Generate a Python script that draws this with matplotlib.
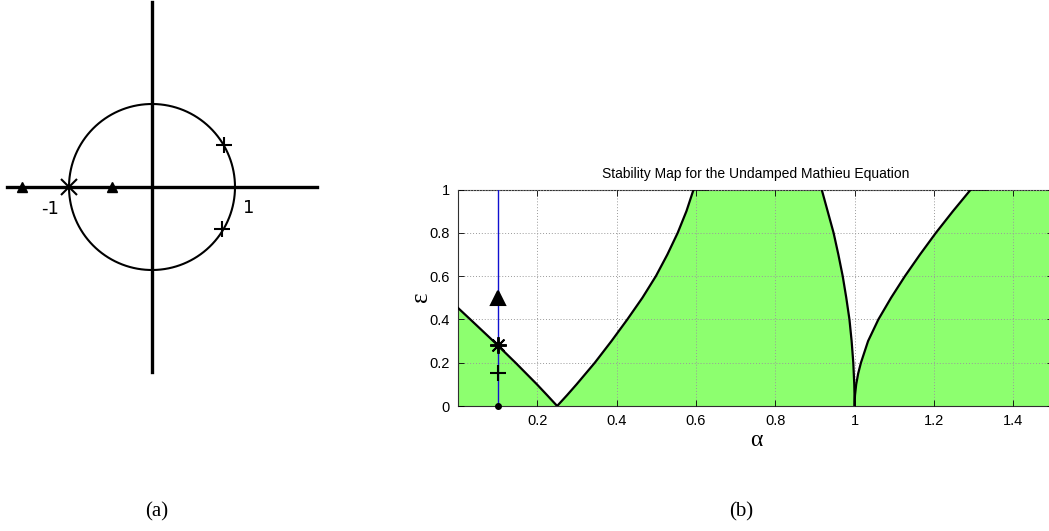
import matplotlib.pyplot as plt
import numpy as np

# ---- panel (a): Floquet multipliers in the complex plane ----
tri_re = [-1.565, -0.485]
tri_im = [0.0, 0.0]
star_re = [-1.0]
star_im = [0.0]
plus_re = [0.867, 0.847]
plus_im = [0.506, -0.506]

# ---- panel (b): transition curves ----
# tongue at alpha = 1/4
c1_left_eps = [0.0, 0.05, 0.1, 0.15, 0.2, 0.25, 0.3, 0.35, 0.4, 0.453]
c1_left_alpha = [0.25, 0.2247, 0.199, 0.172, 0.145, 0.117, 0.089, 0.060, 0.031, 0.0]
c1_right_eps = [0.0, 0.05, 0.1, 0.2, 0.3, 0.4, 0.5, 0.6, 0.7, 0.8, 0.9, 1.0, 1.0]
c1_right_alpha = [0.25, 0.275, 0.299, 0.345, 0.387, 0.427, 0.465, 0.499,
                  0.528, 0.554, 0.576, 0.594, 0.63]
# tongue at alpha = 1
c2_left_eps = [1.0, 0.9, 0.8, 0.7, 0.6, 0.5, 0.4, 0.3, 0.2, 0.1, 0.05, 0.0]
c2_left_alpha = [0.917, 0.932, 0.947, 0.959, 0.970, 0.979, 0.987, 0.9925,
                 0.9967, 0.9992, 0.9998, 1.0]
c2_right_eps = [0.0, 0.02, 0.05, 0.1, 0.15, 0.2, 0.3, 0.4, 0.5, 0.6, 0.7,
                0.8, 0.9, 1.0, 1.0]
c2_right_alpha = [1.0, 1.0002, 1.001, 1.004, 1.009, 1.016, 1.034, 1.060,
                  1.092, 1.127, 1.165, 1.205, 1.248, 1.293, 1.335]

# chosen operating point alpha = 0.1
pt_alpha = 0.1
pt_tri = 0.5
pt_star = 0.284
pt_plus = 0.151
pt_dot = 0.0

W, H = 1049, 531
fig = plt.figure(figsize=(W / 100, H / 100), dpi=100)

# ---------------- (a) ----------------
r = 83.0  # pixels per unit
cx, cy = 152, 187
axl = fig.add_axes([0, (H - 380) / H, 330 / W, 380 / H])
axl.set_xlim(-cx / r, (330 - cx) / r)
axl.set_ylim(-(380 - cy) / r, cy / r)
axl.axis('off')
axl.plot([-(cx - 7) / r, (317 - cx) / r], [0, 0], color='black', lw=2.4)
axl.plot([0, 0], [-(372 - cy) / r, (cy - 2) / r], color='black', lw=2.4)
th = np.linspace(0, 2 * np.pi, 400)
axl.plot(np.cos(th), np.sin(th), color='black', lw=1.5)
axl.plot(tri_re, tri_im, '^', color='black', ms=7)
axl.plot(star_re, star_im, 'x', color='black', ms=11, mew=1.5)
axl.plot(plus_re, plus_im, '+', color='black', ms=12, mew=1.5)
axl.text(-1.23, -0.27, '-1', fontsize=13, ha='center', va='center')
axl.text(1.16, -0.25, '1', fontsize=13, ha='center', va='center')

# ---------------- (b) ----------------
px_per_alpha = 396.6
left, bottom, top = 458, 406, 189.5
axr = fig.add_axes([left / W, (H - bottom) / H,
                    1.5 * px_per_alpha / W, (bottom - top) / H])
green = '#8dff6f'

# stable regions
axr.fill([0.0] + c1_left_alpha, [0.0] + c1_left_eps, color=green, lw=0)
axr.fill(c1_right_alpha + c2_left_alpha,
         c1_right_eps + c2_left_eps, color=green, lw=0)
axr.fill(c2_right_alpha + [1.5, 1.5],
         c2_right_eps + [1.0, 0.0], color=green, lw=0)

for a, e in [(c1_left_alpha, c1_left_eps), (c1_right_alpha, c1_right_eps),
             (c2_left_alpha, c2_left_eps), (c2_right_alpha, c2_right_eps)]:
    axr.plot(a, e, color='black', lw=1.6, zorder=3, solid_joinstyle='round')

axr.plot([pt_alpha, pt_alpha], [0, 1], color='#1010d0', lw=1.0, zorder=4)
axr.plot([pt_alpha], [pt_tri], '^', color='black', ms=10, mew=1.5, zorder=5)
axr.plot([pt_alpha], [pt_star], marker=(8, 2, 0), color='black', ms=12,
         mew=1.4, zorder=5)
axr.plot([pt_alpha], [pt_plus], '+', color='black', ms=12, mew=1.5, zorder=5)
axr.plot([pt_alpha], [pt_dot], 'o', color='black', ms=4, zorder=5, clip_on=False)

axr.set_xlim(0, 1.5)
axr.set_ylim(0, 1)
axr.set_xticks([0.2, 0.4, 0.6, 0.8, 1, 1.2, 1.4])
axr.set_xticklabels(['0.2', '0.4', '0.6', '0.8', '1', '1.2', '1.4'])
axr.set_yticks([0, 0.2, 0.4, 0.6, 0.8, 1])
axr.set_yticklabels(['0', '0.2', '0.4', '0.6', '0.8', '1'])
axr.tick_params(direction='in', length=4, width=0.6, labelsize=10.5,
                top=True, right=True, pad=6)
for lab in axr.get_xticklabels() + axr.get_yticklabels():
    lab.set_family('Liberation Sans')
axr.grid(True, linestyle=(0, (1, 2)), color='#9a9a9a', lw=0.7)
axr.set_axisbelow(False)
for s in axr.spines.values():
    s.set_linewidth(0.8)
    s.set_color('#303030')
axr.set_title('Stability Map for the Undamped Mathieu Equation',
              fontsize=10, family='Liberation Sans', pad=8)
fig.text(421 / W, 1 - 297 / H, 'ε', rotation=90, fontsize=18,
         family='Liberation Serif', ha='center', va='center')
fig.text(756 / W, 1 - 440 / H, 'α', fontsize=17,
         family='Liberation Serif', ha='center', va='center')

fig.text(157 / W, 1 - 512 / H, '(a)', fontsize=15,
         family='Liberation Serif', ha='center', va='center')
fig.text(741 / W, 1 - 512 / H, '(b)', fontsize=15,
         family='Liberation Serif', ha='center', va='center')

fig.savefig('out.png', dpi=100)
